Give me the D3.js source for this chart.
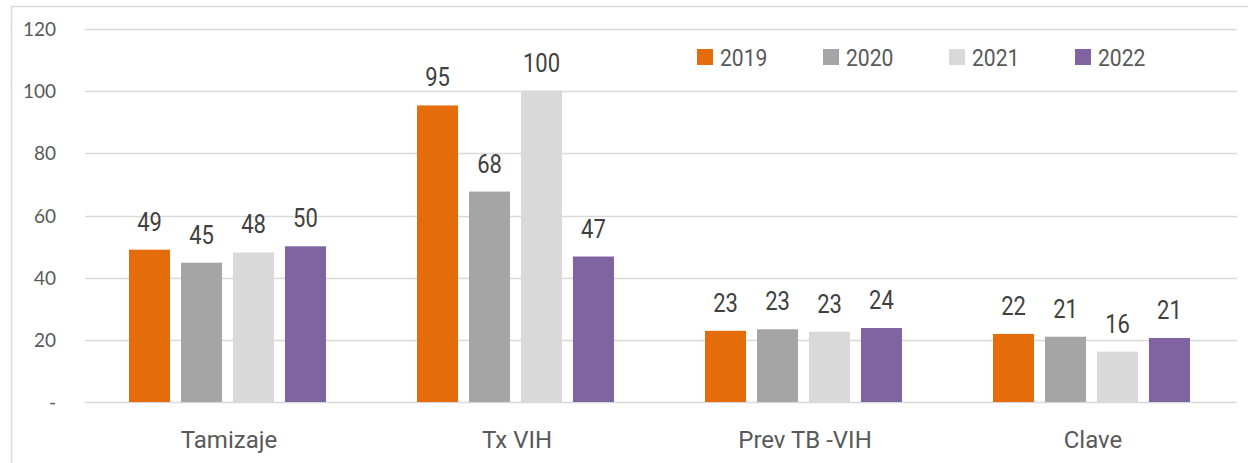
<!DOCTYPE html>
<html>
<head>
<meta charset="utf-8">
<script src="https://cdn.jsdelivr.net/npm/d3@7"></script>
<style>
  body { margin: 0; background: #fff; }
  svg { display: block; }
</style>
</head>
<body>
<div class="canvas"></div>
<script>
const categories = ["Tamizaje", "Tx VIH", "Prev TB -VIH", "Clave"];
const years = ["2019", "2020", "2021", "2022"];
const values2019 = [49, 95.4, 22.9, 21.9];
const values2020 = [44.8, 67.7, 23.4, 21.0];
const values2021 = [48.1, 100.2, 22.6, 16.2];
const values2022 = [50.1, 46.8, 23.8, 20.6];
const yTicks = [0, 20, 40, 60, 80, 100, 120];
const colors = ["#e46c0a", "#a5a5a5", "#d9d9d9", "#8064a2"];

const series = [values2019, values2020, values2021, values2022];

const width = 1248;
const height = 463;
const margin = { top: 29, right: 11, bottom: 61, left: 85 };
const graphWidth = width - margin.left - margin.right;
const graphHeight = height - margin.top - margin.bottom;

const svg = d3
  .select(".canvas")
  .append("svg")
  .attr("width", width)
  .attr("height", height);

// frame of the chart area
svg
  .append("path")
  .attr("d", `M11.5,${height} L11.5,6.5 L${width},6.5`)
  .attr("fill", "none")
  .attr("stroke", "#d9d9d9")
  .attr("stroke-width", 1.5);

const graph = svg
  .append("g")
  .attr("transform", `translate(${margin.left}, ${margin.top})`);

const x0 = d3.scaleBand().domain(categories).range([0, graphWidth]);
const x1 = d3
  .scaleBand()
  .domain(years)
  .range([44, 241])
  .paddingInner(0.21)
  .paddingOuter(0);
const y = d3.scaleLinear().domain([0, 120]).range([graphHeight, 0]);

// gridlines
graph
  .append("g")
  .selectAll("line")
  .data(yTicks)
  .join("line")
  .attr("x1", 0)
  .attr("x2", graphWidth)
  .attr("y1", (d) => Math.round(y(d)) + 0.5)
  .attr("y2", (d) => Math.round(y(d)) + 0.5)
  .attr("stroke", "#d9d9d9")
  .attr("stroke-width", 1.5);

// y axis labels
graph
  .append("g")
  .selectAll("text")
  .data(yTicks)
  .join("text")
  .attr("x", -29)
  .attr("y", (d) => y(d) + 7)
  .attr("text-anchor", "end")
  .attr("font-family", "Lato, 'Open Sans', sans-serif")
  .attr("font-size", 19)
  .attr("fill", "#595959")
  .text((d) => (d === 0 ? "-" : d));

// bars
const groups = graph
  .selectAll("g.cat")
  .data(categories)
  .join("g")
  .attr("class", "cat")
  .attr("transform", (d) => `translate(${x0(d)}, 0)`);

groups
  .selectAll("rect")
  .data((d, i) => years.map((yr, j) => ({ year: yr, value: series[j][i], j })))
  .join("rect")
  .attr("x", (d) => x1(d.year))
  .attr("width", x1.bandwidth())
  .attr("y", (d) => y(d.value))
  .attr("height", (d) => graphHeight - y(d.value))
  .attr("fill", (d) => colors[d.j]);

// data labels
groups
  .selectAll("text")
  .data((d, i) => years.map((yr, j) => ({ year: yr, value: series[j][i], j })))
  .join("text")
  .attr(
    "transform",
    (d) =>
      `translate(${x1(d.year) + x1.bandwidth() / 2}, ${y(d.value) - 19}) scale(0.88,1)`
  )
  .attr("text-anchor", "middle")
  .attr("font-family", "Roboto, sans-serif")
  .attr("font-size", 25)
  .attr("fill", "#404040")
  .text((d) => Math.round(d.value));

// category labels
graph
  .append("g")
  .selectAll("text")
  .data(categories)
  .join("text")
  .attr("x", (d) => x0(d) + x0.bandwidth() / 2)
  .attr("y", graphHeight + 46)
  .attr("text-anchor", "middle")
  .attr("font-family", "Roboto, sans-serif")
  .attr("font-size", 24)
  .attr("fill", "#595959")
  .text((d) => d);

// legend
const legend = svg
  .append("g")
  .selectAll("g")
  .data(years)
  .join("g")
  .attr("transform", (d, i) => `translate(${697 + i * 126}, 49)`);

legend
  .append("rect")
  .attr("width", 16)
  .attr("height", 16)
  .attr("fill", (d, i) => colors[i]);

legend
  .append("text")
  .attr("transform", "translate(23, 17) scale(0.88,1)")
  .attr("font-family", "Roboto, sans-serif")
  .attr("font-size", 24)
  .attr("fill", "#595959")
  .text((d) => d);
</script>
</body>
</html>
